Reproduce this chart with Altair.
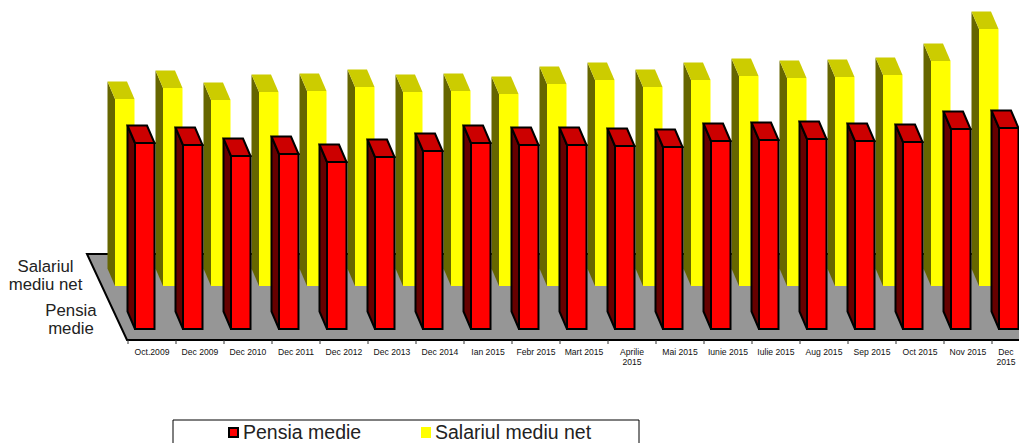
import altair as alt
import pandas as pd

categories = ["Oct.2009", "Dec 2009", "Dec 2010", "Dec 2011", "Dec 2012", "Dec 2013", "Dec 2014",
              "Ian 2015", "Febr 2015", "Mart 2015", "Aprilie|2015", "Mai 2015", "Iunie 2015",
              "Iulie 2015", "Aug 2015", "Sep 2015", "Oct 2015", "Nov 2015", "Dec|2015"]
pensia_medie = [186, 184, 173, 175, 167, 172, 178, 186, 184, 184, 183, 182, 188, 189, 190, 188, 187, 200, 201]
salariul_net = [187, 198, 186, 194, 195, 199, 194, 195, 192, 202, 206, 199, 206, 210, 208, 209, 211, 225, 257]
series_names = ["Pensia medie", "Salariul mediu net"]
depth_labels = ["Salariul|mediu net", "Pensia|medie"]

W, H = 1011, 435
SX = alt.Scale(domain=[8, 8 + W], range=[0, W], nice=False, zero=False)
SY = alt.Scale(domain=[8, 8 + H], range=[0, H], nice=False, zero=False)
X = lambda f: alt.X(f, type="quantitative", scale=SX, axis=None)
Y = lambda f: alt.Y(f, type="quantitative", scale=SY, axis=None)
X2 = lambda f: alt.X2(f)
Y2 = lambda f: alt.Y2(f)

STEP = 48
BW = 19.5
DX, DY = 7.5, 17.5


def bar_frames(values, left0, base):
    fronts, tops, sides = [], [], []
    for i, v in enumerate(values):
        l = left0 + STEP * i
        t = base - v
        fronts.append({"x": l, "x2": l + BW, "y": t, "y2": base})
        tops += [{"id": i, "y": t, "x": l, "x2": l + BW},
                 {"id": i, "y": t - DY, "x": l - DX, "x2": l + BW - DX}]
        sides += [{"id": i, "x": l, "y": t, "y2": base},
                  {"id": i, "x": l - DX, "y": t - DY, "y2": base - DY}]
    return pd.DataFrame(fronts), pd.DataFrame(tops), pd.DataFrame(sides)


def bars(values, left0, base, front, top, side, stroke=None, sw=0):
    f, t, s = bar_frames(values, left0, base)
    kw = dict(stroke=stroke, strokeWidth=sw, strokeJoin="miter") if stroke else {}
    return [
        alt.Chart(s).mark_area(orient="vertical", color=side, clip=True, **kw).encode(
            x=X("x"), y=Y("y"), y2=Y2("y2"), detail="id:N"),
        alt.Chart(t).mark_area(orient="horizontal", color=top, clip=True, **kw).encode(
            y=Y("y"), x=X("x"), x2=X2("x2"), detail="id:N"),
        alt.Chart(f).mark_rect(color=front, clip=True, **kw).encode(
            x=X("x"), x2=X2("x2"), y=Y("y"), y2=Y2("y2")),
    ]


# floor
floor = pd.DataFrame([{"y": 254, "x": 87, "x2": 1000}, {"y": 340, "x": 127, "x2": 1040}])
floor_l = alt.Chart(floor).mark_area(orient="horizontal", color="#969696", stroke="#000000",
                                     strokeWidth=2, clip=True).encode(
    y=Y("y"), x=X("x"), x2=X2("x2"))

# category ticks and labels
tick_df = pd.DataFrame({"x": [128 + STEP * i for i in range(len(categories) + 1)], "y": 340, "y2": 344})
ticks = alt.Chart(tick_df).mark_rule(color="#333333", strokeWidth=1, clip=True).encode(
    x=X("x"), y=Y("y"), y2=Y2("y2"))
lab_x = [152 + STEP * i for i in range(len(categories))]
lab_x[-1] = 1006
lab_df = pd.DataFrame({"x": lab_x, "y": 352, "t": categories})
labs = alt.Chart(lab_df).mark_text(font="Liberation Sans", fontSize=8.6, color="#111111", lineBreak="|",
                                   lineHeight=10, baseline="top", dy=-4, align="center").encode(
    x=X("x"), y=Y("y"), text="t:N")
depth_df = pd.DataFrame({"x": [45.5, 71], "y": [267, 311], "t": depth_labels})
depth = alt.Chart(depth_df).mark_text(font="Liberation Sans", fontSize=16.8, color="#222222", lineBreak="|",
                                      lineHeight=18, baseline="middle", align="center").encode(
    x=X("x"), y=Y("y"), text="t:N")

# legend
box = alt.Chart(pd.DataFrame([{"x": 173, "x2": 639, "y": 420, "y2": 470}])).mark_rect(
    fill="#ffffff", stroke="#000000", strokeWidth=1, clip=True).encode(
    x=X("x"), x2=X2("x2"), y=Y("y"), y2=Y2("y2"))
sw1 = alt.Chart(pd.DataFrame([{"x": 229, "x2": 238, "y": 428, "y2": 437}])).mark_rect(
    fill="#ff0000", stroke="#000000", strokeWidth=2).encode(
    x=X("x"), x2=X2("x2"), y=Y("y"), y2=Y2("y2"))
sw2 = alt.Chart(pd.DataFrame([{"x": 421, "x2": 431, "y": 427, "y2": 438}])).mark_rect(
    fill="#ffff00").encode(x=X("x"), x2=X2("x2"), y=Y("y"), y2=Y2("y2"))
leg_txt = alt.Chart(pd.DataFrame({"x": [243, 435], "y": [432.5, 432.5], "t": series_names})).mark_text(
    font="Liberation Sans", fontSize=19.5, color="#222222", align="left", baseline="middle").encode(
    x=X("x"), y=Y("y"), text="t:N")

layers = [floor_l, ticks]
layers += bars(salariul_net, 115, 286, "#ffff00", "#cccc00", "#666600")
layers += bars(pensia_medie, 135, 329, "#ff0000", "#cc0000", "#660000", stroke="#000000", sw=2)
layers += [labs, depth, box, sw1, sw2, leg_txt]

chart = alt.layer(*layers).properties(
    width=W, height=H, padding=0, autosize=alt.AutoSizeParams(type="none")
).configure_view(stroke=None)

chart.save("out.html", embed_options={"renderer": "svg", "actions": False})
